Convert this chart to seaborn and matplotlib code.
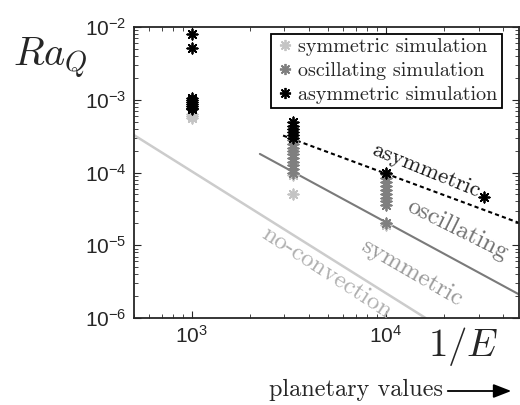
import numpy as np
import pandas as pd
import matplotlib
matplotlib.use("Agg")
import matplotlib.pyplot as plt
from matplotlib.lines import Line2D
import seaborn as sns

# ---- data ----
sym_x = [1000, 1000, 1000, 3333, 3333, 10000]
sym_y = [6.4e-4, 6.0e-4, 5.6e-4, 9.3e-5, 5.1e-5, 1.9e-5]

osc_x = [3333] * 10 + [10000] * 10
osc_y = [2.8e-4, 2.5e-4, 2.2e-4, 2.0e-4, 1.8e-4, 1.6e-4, 1.4e-4, 1.25e-4, 1.1e-4, 1.0e-4,
         9.5e-5, 8.5e-5, 7.5e-5, 6.5e-5, 5.7e-5, 5.0e-5, 4.4e-5, 4.0e-5, 3.6e-5, 2.0e-5]

asym_x = [1000] * 9 + [3333] * 6 + [10000, 32000]
asym_y = [8.0e-3, 5.1e-3, 1.05e-3, 9.8e-4, 9.2e-4, 8.7e-4, 8.2e-4, 7.8e-4, 7.4e-4,
          4.9e-4, 4.4e-4, 4.0e-4, 3.6e-4, 3.3e-4, 3.0e-4, 1.0e-4, 4.6e-5]

# regime boundary lines (end points)
noconv_x = [500, 16000]
noconv_y = [3.3e-4, 1.0e-6]
oscline_x = [2240, 49000]
oscline_y = [1.80e-4, 2.08e-6]
asymline_x = [2950, 48500]
asymline_y = [3.22e-4, 2.03e-5]

series_labels = ["symmetric simulation", "oscillating simulation", "asymmetric simulation"]
series_colors = ["#c4c4c4", "#7f7f7f", "#000000"]
region_labels = ["no-convection", "symmetric", "oscillating", "asymmetric"]
xticks = [1e3, 1e4]
yticks = [1e-6, 1e-5, 1e-4, 1e-3, 1e-2]

# ---- style ----
sns.set_style("ticks")
plt.rcParams["font.family"] = ["Liberation Sans", "DejaVu Sans"]
plt.rcParams["mathtext.fontset"] = "custom"
plt.rcParams["mathtext.rm"] = "Liberation Sans"
plt.rcParams["mathtext.it"] = "Liberation Sans:italic"
plt.rcParams["mathtext.bf"] = "Liberation Sans:bold"

W, H = 520, 405
fig = plt.figure(figsize=(W / 100, H / 100), dpi=100)
ax = fig.add_axes([133.5 / W, 1 - 318 / H, (519 - 133.5) / W, (318 - 27) / H])

df = pd.concat([
    pd.DataFrame({"x": sym_x, "y": sym_y, "kind": series_labels[0]}),
    pd.DataFrame({"x": osc_x, "y": osc_y, "kind": series_labels[1]}),
    pd.DataFrame({"x": asym_x, "y": asym_y, "kind": series_labels[2]}),
], ignore_index=True)

# lines
ax.plot(noconv_x, noconv_y, color="#cccccc", lw=1.8, zorder=1)
ax.plot(oscline_x, oscline_y, color="#7a7a7a", lw=1.5, zorder=1)
ax.plot(asymline_x, asymline_y, color="black", lw=1.5, ls=(0, (2.0, 1.5)), zorder=1)

star = (8, 2, 0)
for lab, col in zip(series_labels, series_colors):
    sub = df[df["kind"] == lab]
    sns.scatterplot(data=sub, x="x", y="y", ax=ax, marker=star, s=55,
                    color=col, edgecolor=col, linewidth=1.3, legend=False, zorder=3)

ax.set_xscale("log")
ax.set_yscale("log")
ax.set_xlim(500, 4.85e4)
ax.set_ylim(1e-6, 1e-2)
ax.set_xticks(xticks)
ax.set_yticks(yticks)
ax.set_xlabel("")
ax.set_ylabel("")
ax.tick_params(which="both", direction="in", top=True, right=True)
ax.tick_params(which="major", length=5, width=0.8, labelsize=15, pad=5)
ax.tick_params(which="minor", length=3, width=0.6)
for sp in ax.spines.values():
    sp.set_linewidth(1.3)
    sp.set_visible(True)

serif = "cmr10"
handles = [Line2D([], [], ls="", marker=star, ms=8, mew=1.3, color=c) for c in series_colors]
leg = ax.legend(handles, series_labels, loc="upper right", bbox_to_anchor=(0.955, 0.977),
                frameon=True, fancybox=False, edgecolor="black", framealpha=1,
                prop={"family": serif, "size": 14.5}, handletextpad=0.2,
                handlelength=0.9, borderpad=0.22, labelspacing=0.28, borderaxespad=0)
leg.get_frame().set_linewidth(1.3)

def px(x, y):
    return x / W, 1 - y / H

# region labels
ax_texts = [
    (region_labels[0], 327, 273, -33, "#b0b0b0", 18),
    (region_labels[1], 412, 273, -30, "#9a9a9a", 18),
    (region_labels[2], 457, 230, -26.5, "#707070", 18),
    (region_labels[3], 426, 170, -22, "#1a1a1a", 16.5),
]
for t, x, y, rot, c, fs in ax_texts:
    fig.text(*px(x, y), t, rotation=rot, color=c, family=serif, fontsize=fs,
             ha="center", va="center", rotation_mode="anchor")

fig.text(*px(50, 58), r"$Ra_Q$", math_fontfamily="cm", fontsize=29, ha="center", va="center")
fig.text(*px(463, 347), r"$1/E$", math_fontfamily="cm", fontsize=28, ha="center", va="center")
fig.text(*px(269, 390), "planetary values", family=serif, fontsize=17.5, ha="left", va="center")
fig.add_artist(matplotlib.patches.FancyArrowPatch(px(445, 391), px(514, 391),
               transform=fig.transFigure, arrowstyle="-|>,head_length=0.9,head_width=0.35",
               color="black", lw=1.3, mutation_scale=12))

fig.savefig("out.png", dpi=100)
